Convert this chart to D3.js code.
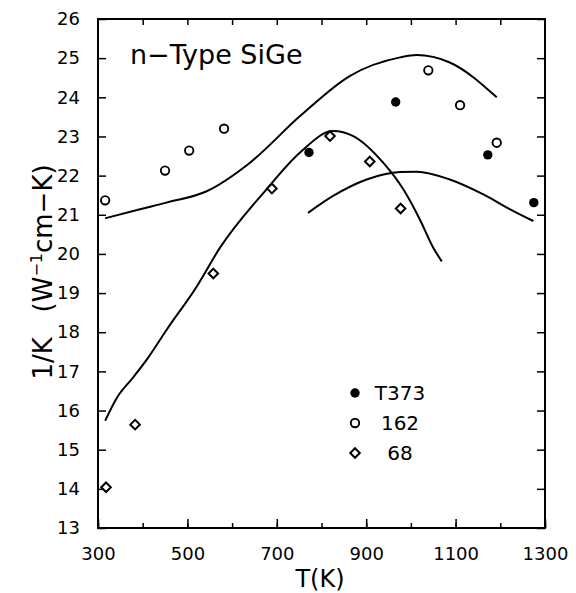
<!DOCTYPE html>
<html>
<head>
<meta charset="utf-8">
<script src="https://cdn.jsdelivr.net/npm/d3@7"></script>
<style>
  body { margin: 0; background: #fff; }
  text { font-family: 'DejaVu Sans', 'Liberation Sans', sans-serif; fill: #000; }
</style>
</head>
<body>
<div id="chart"></div>
<script>
// DATA
var xTicks = [300, 500, 700, 900, 1100, 1300]
var yTicks = [13, 14, 15, 16, 17, 18, 19, 20, 21, 22, 23, 24, 25, 26]

// T373 (filled circles)
var t373 = [[772, 22.59], [966, 23.88], [1172, 22.53], [1275, 21.31]]
// 162 (open circles)
var s162 = [[316, 21.37], [450, 22.13], [504, 22.64], [582, 23.2], [1039, 24.69], [1110, 23.8], [1192, 22.84]]
// 68 (open diamonds)
var s68 = [[318, 14.04], [383, 15.64], [558, 19.5], [689, 21.67], [819, 23.01], [908, 22.36], [977, 21.16]]

// fitted curves
var curve162 = [[316, 20.91], [394, 21.14], [453, 21.31], [543, 21.6], [640, 22.33], [752, 23.52],
  [864, 24.55], [976, 25.02], [1013, 25.08], [1087, 24.89], [1192, 24.0]]
var curve68 = [[316, 15.74], [342, 16.32], [379, 16.85], [409, 17.3], [454, 18.07], [521, 19.17],
  [573, 20.16], [677, 21.65], [752, 22.59], [826, 23.14], [871, 23.01], [938, 22.33],
  [983, 21.65], [1020, 20.88], [1050, 20.16], [1069, 19.81]]
var curveT373 = [[770, 21.05], [826, 21.48], [901, 21.9], [976, 22.09], [1013, 22.1],
  [1087, 21.9], [1162, 21.52], [1222, 21.14], [1274, 20.84]]

var legendItems = [
  {label: 'T373', kind: 'filled'},
  {label: '162', kind: 'open'},
  {label: '68', kind: 'diamond'}
]

// GLOBAL
var width = 576
var height = 593
var margin = {top: 19, left: 98, bottom: 65, right: 31}

var svg = d3.select('#chart').append('svg')
  .attr('width', width)
  .attr('height', height)

var xMap = d3.scaleLinear()
  .domain([300, 1300])
  .range([margin.left, width - margin.right])

var yMap = d3.scaleLinear()
  .domain([13, 26])
  .range([height - margin.bottom, margin.top])

var line = d3.line()
  .x(d => xMap(d[0]))
  .y(d => yMap(d[1]))
  .curve(d3.curveMonotoneX)

// AXES (ticks inward on all four sides)
var minorX = d3.range(300, 1301, 100)

svg.append('g')
  .attr('transform', 'translate(' + [0, yMap(13)] + ')')
  .call(d3.axisBottom(xMap).tickValues(minorX).tickSize(-5).tickFormat(''))
  .call(g => g.selectAll('.tick line').attr('stroke-width', 1.5))
  .call(g => g.select('.domain').remove())

svg.append('g')
  .attr('transform', 'translate(' + [0, yMap(13)] + ')')
  .call(d3.axisBottom(xMap).tickValues(xTicks).tickSize(-9).tickPadding(19).tickFormat(d3.format('d')))
  .call(g => g.selectAll('.tick line').attr('stroke-width', 1.5))
  .call(g => g.selectAll('.tick text').style('font-size', '18px').style('font-family', null))
  .call(g => g.select('.domain').remove())

svg.append('g')
  .attr('transform', 'translate(' + [0, yMap(26)] + ')')
  .call(d3.axisTop(xMap).tickValues(minorX.slice(1, -1)).tickSize(-6).tickFormat(''))
  .call(g => g.selectAll('.tick line').attr('stroke-width', 1.5))
  .call(g => g.select('.domain').remove())

svg.append('g')
  .attr('transform', 'translate(' + [xMap(300), 0] + ')')
  .call(d3.axisLeft(yMap).tickValues(yTicks).tickSize(-8).tickPadding(18).tickFormat(d3.format('d')))
  .call(g => g.selectAll('.tick line').attr('stroke-width', 1.5))
  .call(g => g.selectAll('.tick text').style('font-size', '18px'))
  .call(g => g.select('.domain').remove())

svg.append('g')
  .attr('transform', 'translate(' + [xMap(1300), 0] + ')')
  .call(d3.axisRight(yMap).tickValues(yTicks).tickSize(-8).tickFormat(''))
  .call(g => g.selectAll('.tick line').attr('stroke-width', 1.5))
  .call(g => g.select('.domain').remove())

svg.selectAll('.tick text').attr('font-family', null)

// frame
svg.append('rect')
  .attr('x', xMap(300))
  .attr('y', yMap(26))
  .attr('width', xMap(1300) - xMap(300))
  .attr('height', yMap(13) - yMap(26))
  .style('fill', 'none')
  .style('stroke', '#000')
  .style('stroke-width', 2)

// CURVES
;[curve162, curve68, curveT373].forEach(function(c) {
  svg.append('path')
    .datum(c)
    .attr('d', line)
    .style('fill', 'none')
    .style('stroke', '#000')
    .style('stroke-width', 2)
})

// MARKERS
function drawMarker(g, kind, x, y) {
  if (kind === 'diamond') {
    g.append('path')
      .attr('d', 'M' + x + ',' + (y - 4.8) + 'L' + (x + 4.8) + ',' + y + 'L' + x + ',' + (y + 4.8) + 'L' + (x - 4.8) + ',' + y + 'Z')
      .style('fill', '#fff')
      .style('stroke', '#000')
      .style('stroke-width', 2)
  } else {
    g.append('circle')
      .attr('cx', x)
      .attr('cy', y)
      .attr('r', kind === 'filled' ? 4.7 : 4.2)
      .style('fill', kind === 'filled' ? '#000' : '#fff')
      .style('stroke', '#000')
      .style('stroke-width', kind === 'filled' ? 0 : 1.9)
  }
}

var gPts = svg.append('g')
t373.forEach(d => drawMarker(gPts, 'filled', xMap(d[0]), yMap(d[1])))
s162.forEach(d => drawMarker(gPts, 'open', xMap(d[0]), yMap(d[1])))
s68.forEach(d => drawMarker(gPts, 'diamond', xMap(d[0]), yMap(d[1])))

// LEGEND
var gLeg = svg.append('g')
legendItems.forEach(function(d, i) {
  var y = 393 + i * 30
  drawMarker(gLeg, d.kind, 355, y)
  gLeg.append('text')
    .attr('x', 400)
    .attr('y', y + 7)
    .style('text-anchor', 'middle')
    .style('font-size', '20px')
    .text(d.label)
})

// LABELS
svg.append('text')
  .attr('x', 130)
  .attr('y', 64)
  .style('font-size', '27px')
  .text('n\u2212Type SiGe')

svg.append('text')
  .attr('x', 320)
  .attr('y', 587)
  .style('text-anchor', 'middle')
  .style('font-size', '24px')
  .text('T(K)')

var yLab = svg.append('text')
  .attr('transform', 'translate(52,' + 272 + ') rotate(-90)')
  .style('text-anchor', 'middle')
  .style('font-size', '26px')
  .style('white-space', 'pre')
  .attr('xml:space', 'preserve')
yLab.append('tspan').text('1/K   (W')
yLab.append('tspan').attr('dy', -10).style('font-size', '16px').text('\u22121')
yLab.append('tspan').attr('dy', 10).text('cm\u2212K)')
</script>
</body>
</html>
